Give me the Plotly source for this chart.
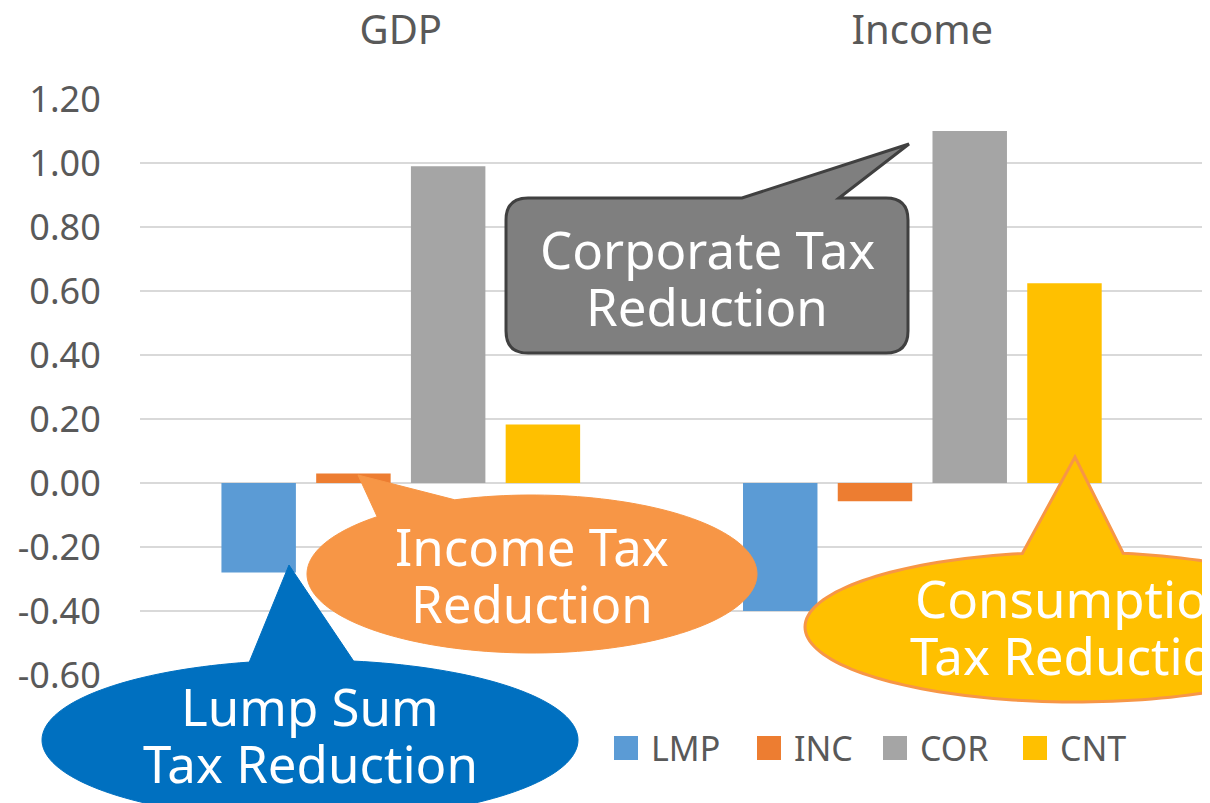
import numpy as np
import plotly.graph_objects as go

# ---------------- data ----------------
categories = ["GDP", "Income"]
series_names = ["LMP", "INC", "COR", "CNT"]
lmp_values = [-0.28, -0.40]
inc_values = [0.03, -0.057]
cor_values = [0.99, 1.10]
cnt_values = [0.183, 0.624]
y_tick_values = [-0.6, -0.4, -0.2, 0.0, 0.2, 0.4, 0.6, 0.8, 1.0, 1.2]
y_tick_labels = ["-0.60", "-0.40", "-0.20", "0.00", "0.20", "0.40", "0.60", "0.80", "1.00", "1.20"]
callout_texts = [
    ["Corporate Tax", "Reduction"],
    ["Income Tax", "Reduction"],
    ["Lump Sum", "Tax Reduction"],
    ["Consumption", "Tax Reduction"],
]

# ---------------- style ----------------
series_colors = ["#5B9BD5", "#ED7D31", "#A5A5A5", "#FFC000"]
FONT = "Noto Sans"
TXT = "#595959"
OFF = 8                      # page body margin of the browser
W, H = 1210 - OFF, 803 - OFF
PLOT_L, PLOT_T, PLOT_R, PLOT_B = 140, 99, 1210, 675   # plot area in screen pixels
ML, MT = PLOT_L - OFF, PLOT_T - OFF
MR = W - (PLOT_R - OFF)
MB = H - (PLOT_B - OFF)
PW, PH = PLOT_R - PLOT_L, PLOT_B - PLOT_T


def fx(x):
    return (x - PLOT_L) / PW


def fy(y):
    return (PLOT_B - y) / PH


def path_from_pts(pts):
    return "M " + " L ".join(f"{fx(x):.5f},{fy(y):.5f}" for x, y in pts) + " Z"


def ellipse_callout(cx, cy, rx, ry, b1, b2, tip, n=160):
    a1 = np.arctan2((b1[1] - cy) / ry, (b1[0] - cx) / rx)
    a2 = np.arctan2((b2[1] - cy) / ry, (b2[0] - cx) / rx)
    lo, hi = min(a1, a2), max(a1, a2)
    ts = np.linspace(hi, lo + 2 * np.pi, n)
    pts = [(cx + rx * np.cos(t), cy + ry * np.sin(t)) for t in ts]
    pts.append(tip)
    return path_from_pts(pts)


def rounded_callout(x0, y0, x1, y1, r, b1, b2, tip):
    P = lambda x, y: f"{fx(x):.5f},{fy(y):.5f}"
    return (
        f"M {P(x0 + r, y0)} L {P(b1, y0)} L {P(*tip)} L {P(b2, y0)} "
        f"L {P(x1 - r, y0)} Q {P(x1, y0)} {P(x1, y0 + r)} "
        f"L {P(x1, y1 - r)} Q {P(x1, y1)} {P(x1 - r, y1)} "
        f"L {P(x0 + r, y1)} Q {P(x0, y1)} {P(x0, y1 - r)} "
        f"L {P(x0, y0 + r)} Q {P(x0, y0)} {P(x0 + r, y0)} Z"
    )


fig = go.Figure()
for name, vals, col in zip(series_names, [lmp_values, inc_values, cor_values, cnt_values], series_colors):
    fig.add_trace(go.Bar(x=categories, y=vals, name=name, marker_color=col,
                         marker_line_width=0, showlegend=False))

shapes = []
annotations = []

# Corporate (rounded rectangle)
shapes.append(dict(type="path", xref="paper", yref="paper",
                   path=rounded_callout(506, 198, 908, 353, 22, 742, 839, (909, 144)),
                   fillcolor="#7F7F7F", line=dict(color="#404040", width=3)))
# Income (orange ellipse)
shapes.append(dict(type="path", xref="paper", yref="paper",
                   path=ellipse_callout(532, 574, 225, 79, (378, 517), (455, 500), (358, 475)),
                   fillcolor="#F79646", line=dict(color="#F79646", width=1)))
# Lump sum (blue ellipse)
shapes.append(dict(type="path", xref="paper", yref="paper",
                   path=ellipse_callout(310, 740, 268, 80, (250, 663), (352, 664), (289, 565)),
                   fillcolor="#0070C0", line=dict(color="#0070C0", width=1)))
# Consumption (yellow ellipse, orange border)
shapes.append(dict(type="path", xref="paper", yref="paper",
                   path=ellipse_callout(1075, 627, 270, 75, (1022, 553), (1122, 555), (1075, 457)),
                   fillcolor="#FFC000", line=dict(color="#F79646", width=3)))

text_pos = [
    (707, [249, 306]),
    (532, [546, 603]),
    (310, [706, 763]),
    (1077, [598, 655]),
]
for (cx, ys), lines in zip(text_pos, callout_texts):
    for yy, t in zip(ys, lines):
        annotations.append(dict(text=t, x=fx(cx), y=fy(yy), xref="paper", yref="paper",
                                xanchor="center", yanchor="middle", showarrow=False,
                                font=dict(family=FONT, size=51, color="white")))

# Legend (manual, larger swatches as in the reference)
legend_x = [614, 757, 883, 1023]
for lx, name, col in zip(legend_x, series_names, series_colors):
    shapes.append(dict(type="rect", xref="paper", yref="paper",
                       x0=fx(lx), x1=fx(lx + 24), y0=fy(760), y1=fy(736),
                       fillcolor=col, line=dict(width=0)))
    annotations.append(dict(text=name, x=fx(lx + 35), y=fy(748), xref="paper", yref="paper",
                            xanchor="left", yanchor="middle", showarrow=False,
                            font=dict(family=FONT, size=34, color=TXT)))

fig.update_layout(
    width=W, height=H,
    margin=dict(l=ML, r=MR, t=MT, b=MB, pad=0, autoexpand=False),
    paper_bgcolor="white", plot_bgcolor="white",
    barmode="group", bargap=0.2734, bargroupgap=0.214,
    font=dict(family=FONT, color=TXT),
    shapes=shapes, annotations=annotations,
    xaxis=dict(type="category", side="top", range=[-0.5, 1.5515], automargin=False,
               showgrid=False, showline=False, zeroline=False,
               ticks="outside", ticklen=38, tickcolor="rgba(0,0,0,0)",
               tickfont=dict(family=FONT, size=40, color=TXT)),
    yaxis=dict(range=[-0.6, 1.2], tickmode="array", tickvals=y_tick_values, ticktext=y_tick_labels,
               automargin=False,
               showgrid=True, gridcolor="#D9D9D9", gridwidth=1.5,
               zeroline=True, zerolinecolor="#D9D9D9", zerolinewidth=1.5,
               showline=False, ticks="outside", ticklen=31, tickcolor="rgba(0,0,0,0)",
               tickfont=dict(family=FONT, size=36, color=TXT)),
)

fig.write_html("out.html")
